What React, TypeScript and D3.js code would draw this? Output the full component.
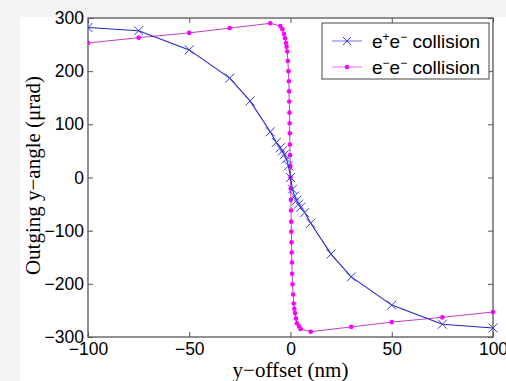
import React, { useEffect, useRef } from 'react';
import * as d3 from 'd3';

// e+e- collision (blue, x markers)
const posX = [-100, -75, -50, -30, -20, -10, -7, -5, -4, -3, -2, -1, 0, 1, 2, 3, 4, 5, 7, 10, 20, 30, 50, 75, 100];
const posY = [282, 276, 240, 187, 144, 86, 66, 56, 50, 43, 35, 22, 0, -22, -35, -43, -50, -56, -66, -86, -144, -187, -240, -276, -283];

// e-e- collision (magenta, dots)
const eleX = [-100, -75, -50, -30, -10, -5, -4, -3.2, -2.7, -2.2, -1.9, -1.6, -1.3, -1.0, -0.8, -0.7, -0.6, -0.5, -0.4, -0.35, -0.3, -0.2, -0.1, 0,
  0.1, 0.2, 0.3, 0.35, 0.4, 0.5, 0.6, 0.7, 0.8, 1.0, 1.3, 1.6, 1.9, 2.2, 2.7, 3.2, 4.2, 5, 10, 30, 50, 75, 100];
const eleY = [253, 263, 272, 281, 290, 285, 279, 270, 262, 253, 246, 237, 219, 200, 181, 162, 143, 122, 102, 83, 62, 42, 21, 0,
  -21, -42, -62, -83, -102, -122, -141, -160, -181, -201, -220, -237, -247, -255, -265, -274, -280, -285, -290, -281, -272, -263, -253];

const xTicks = [-100, -50, 0, 50, 100];
const yTicks = [-300, -200, -100, 0, 100, 200, 300];
const legendLabels = [['e', '+', 'e', '−', ' collision'], ['e', '−', 'e', '−', ' collision']];

const W = 506, H = 381;
const m = { left: 88, right: 493, top: 18, bottom: 337 };

const App = () => {
  const ref = useRef<SVGGElement>(null);

  useEffect(() => {
    const svg = d3.select(ref.current);
    svg.selectAll('*').remove();

    const x = d3.scaleLinear().domain([-100, 100]).range([m.left, m.right]);
    const y = d3.scaleLinear().domain([-300, 300]).range([m.bottom, m.top]);

    svg.append('clipPath').attr('id', 'plot')
      .append('rect').attr('x', m.left).attr('y', m.top - 6)
      .attr('width', m.right - m.left + 6).attr('height', m.bottom - m.top + 12);

    const tickStyle = (g: any) => {
      g.select('.domain').remove();
      g.selectAll('line').attr('stroke', '#555').attr('stroke-width', 1);
      g.selectAll('text').attr('font-family', 'Liberation Sans, Arial, sans-serif')
        .attr('font-size', 17.5).attr('fill', '#000');
    };

    svg.append('g').attr('transform', `translate(0,${m.bottom})`)
      .call(d3.axisBottom(x).tickValues(xTicks).tickSize(-5).tickPadding(6))
      .call(tickStyle);
    svg.append('g').attr('transform', `translate(0,${m.top})`)
      .call(d3.axisTop(x).tickValues(xTicks).tickSize(-5).tickFormat(() => ''))
      .call(tickStyle);
    svg.append('g').attr('transform', `translate(${m.left},0)`)
      .call(d3.axisLeft(y).tickValues(yTicks).tickSize(-5).tickPadding(4))
      .call(tickStyle);
    svg.append('g').attr('transform', `translate(${m.right},0)`)
      .call(d3.axisRight(y).tickValues(yTicks).tickSize(-5).tickFormat(() => ''))
      .call(tickStyle);

    svg.append('rect').attr('x', m.left).attr('y', m.top)
      .attr('width', m.right - m.left).attr('height', m.bottom - m.top)
      .attr('fill', 'none').attr('stroke', '#555').attr('stroke-width', 1.3);

    const plot = svg.append('g').attr('clip-path', 'url(#plot)');

    const posPts = posX.map((v, i) => [x(v), y(posY[i])] as [number, number]);
    const elePts = eleX.map((v, i) => [x(v), y(eleY[i])] as [number, number]);

    plot.append('path').attr('d', d3.line()(elePts)).attr('fill', 'none')
      .attr('stroke', '#c040c0').attr('stroke-width', 1);
    plot.selectAll('.dot').data(elePts).join('circle')
      .attr('cx', d => d[0]).attr('cy', d => d[1]).attr('r', 2.3).attr('fill', '#ff00ff');

    plot.append('path').attr('d', d3.line()(posPts)).attr('fill', 'none')
      .attr('stroke', '#2424c8').attr('stroke-width', 1.1);
    const cross = (g: any, cx: number, cy: number, s: number) => {
      g.append('path')
        .attr('d', `M${cx - s},${cy - s}L${cx + s},${cy + s}M${cx - s},${cy + s}L${cx + s},${cy - s}`)
        .attr('stroke', '#3a3ae0').attr('stroke-width', 1).attr('fill', 'none');
    };
    posPts.forEach(p => cross(plot, p[0], p[1], 4.5));

    // legend
    const lg = svg.append('g');
    lg.append('rect').attr('x', 322).attr('y', 23).attr('width', 167).attr('height', 56)
      .attr('fill', '#fff').attr('stroke', '#444').attr('stroke-width', 1);
    const rows = [41, 67];
    const colors = ['#7070f0', '#f070f0'];
    rows.forEach((ry, i) => {
      lg.append('line').attr('x1', 332).attr('x2', 362).attr('y1', ry).attr('y2', ry)
        .attr('stroke', colors[i]).attr('stroke-width', 1);
      if (i === 0) cross(lg, 347, ry, 4);
      else lg.append('circle').attr('cx', 347).attr('cy', ry).attr('r', 2.3).attr('fill', '#ff00ff');
      const t = lg.append('text').attr('x', 372).attr('y', ry + 6.5)
        .attr('font-family', 'Liberation Sans, Arial, sans-serif').attr('font-size', 19);
      legendLabels[i].forEach((s, k) => {
        const sup = k === 1 || k === 3;
        t.append('tspan').text(s)
          .attr('font-size', sup ? 12 : 19)
          .attr('dy', sup ? -7 : (k === 0 ? 0 : 7));
      });
    });

    svg.append('text').attr('x', x(0)).attr('y', 377).attr('text-anchor', 'middle')
      .attr('font-family', 'Liberation Serif, Times New Roman, serif').attr('font-size', 21)
      .text('y−offset (nm)');
    svg.append('text').attr('transform', `translate(40,${(m.top + m.bottom) / 2 - 2}) rotate(-90)`)
      .attr('text-anchor', 'middle')
      .attr('font-family', 'Liberation Serif, Times New Roman, serif').attr('font-size', 21)
      .text('Outging y−angle (μrad)');
  }, []);

  return (
    <svg width={W} height={H} style={{ position: 'absolute', left: 0, top: 0, display: 'block' }}>
      <rect x={0} y={0} width={W} height={H} fill="#f3f3f3" />
      <rect x={20} y={17} width={W - 20} height={H - 17} fill="#ffffff" />
      <g ref={ref} />
    </svg>
  );
};

export default App;
